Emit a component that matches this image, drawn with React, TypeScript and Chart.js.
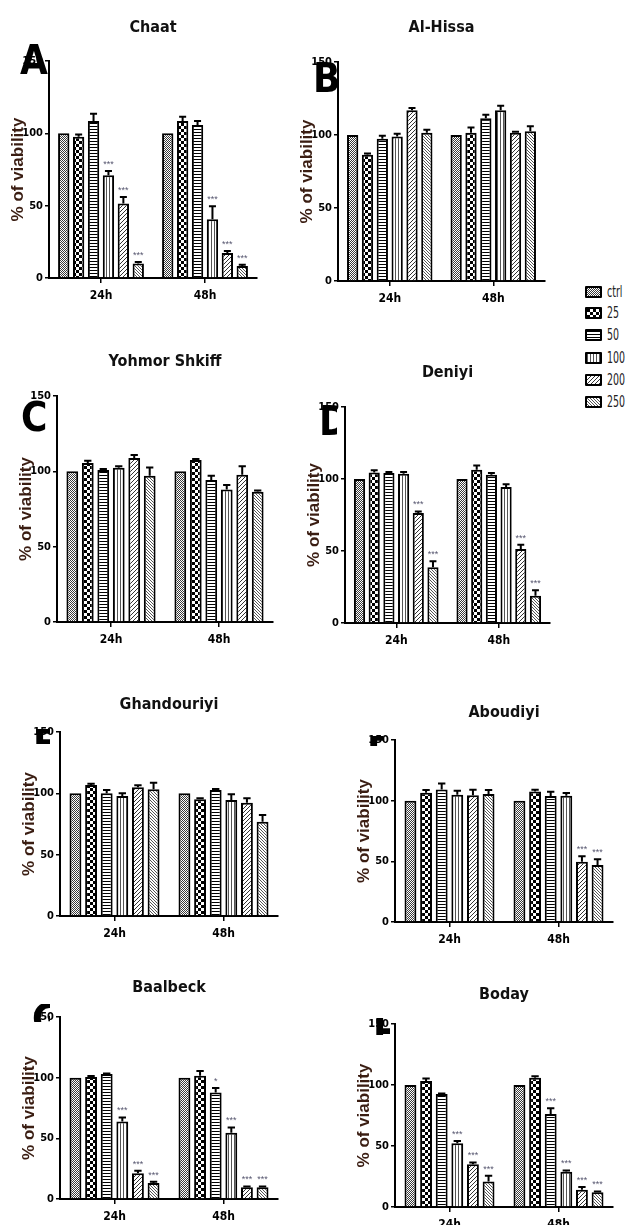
import React, { useEffect, useRef } from "react";
import { Chart, registerables } from "chart.js";

Chart.register(...registerables);

// ---------- data ----------
const timeLabels = ["24h", "48h"];
const doseLabels = ["ctrl", "25", "50", "100", "200", "250"];
const yTickValues = [0, 50, 100, 150];
const yAxisTitle = "% of viability";

const chaat24 = [100, 97.7, 108.5, 71, 51.5, 10];
const chaat48 = [100, 108.5, 105.8, 40.6, 17.3, 8.3];
const chaatErr24 = [0, 1.5, 5, 3, 4.5, 1];
const chaatErr48 = [0, 3, 2.7, 9, 1.4, 0.8];
const chaatStars24 = ["", "", "", "***", "***", "***"];
const chaatStars48 = ["", "", "", "***", "***", "***"];

const hissa24 = [100, 86.5, 97.5, 98.9, 117, 101.6];
const hissa48 = [100, 101.6, 111.5, 117, 101.6, 102.5];
const hissaErr24 = [0, 0.8, 2, 2, 1.5, 2];
const hissaErr48 = [0, 3.5, 2.3, 3, 0.7, 3.5];
const hissaStars24 = ["", "", "", "", "", ""];
const hissaStars48 = ["", "", "", "", "", ""];

const yohmor24 = [100, 105.5, 100.9, 102.4, 108.8, 97.1];
const yohmor48 = [100, 107.5, 94.3, 87.9, 97.8, 86.5];
const yohmorErr24 = [0, 1.5, 0.7, 1, 2, 5.5];
const yohmorErr48 = [0, 0.7, 2.8, 3, 5.5, 0.7];
const yohmorStars24 = ["", "", "", "", "", ""];
const yohmorStars48 = ["", "", "", "", "", ""];

const deniyi24 = [100, 104.6, 104.2, 103.7, 76.4, 38.7];
const deniyi48 = [100, 106.5, 103, 94.4, 51.4, 19];
const deniyiErr24 = [0, 1.4, 0.7, 1.1, 1.1, 4.2];
const deniyiErr48 = [0, 2.8, 1.2, 2, 3, 3.7];
const deniyiStars24 = ["", "", "", "", "***", "***"];
const deniyiStars48 = ["", "", "", "", "***", "***"];

const ghand24 = [100, 106.8, 100, 97.8, 104.9, 103.3];
const ghand48 = [100, 95.1, 102.7, 94.6, 92.4, 76.9];
const ghandErr24 = [0, 1, 2.7, 2.2, 1.6, 5.4];
const ghandErr48 = [0, 0.8, 0.8, 4.6, 3.5, 5.4];
const ghandStars24 = ["", "", "", "", "", ""];
const ghandStars48 = ["", "", "", "", "", ""];

const aboud24 = [100, 106.5, 109.3, 104.9, 104.4, 105.4];
const aboud48 = [100, 107.6, 103.8, 104.1, 49.6, 46.9];
const aboudErr24 = [0, 2.2, 4.9, 3.3, 4.6, 3.3];
const aboudErr48 = [0, 1.4, 3.5, 2.2, 4.6, 4.9];
const aboudStars24 = ["", "", "", "", "", ""];
const aboudStars48 = ["", "", "", "", "***", "***"];

const baal24 = [100, 100.5, 103, 63.9, 21.3, 13.1];
const baal48 = [100, 101.6, 87.7, 54.6, 9.6, 9.6];
const baalErr24 = [0, 0.8, 0.5, 3.3, 1.9, 1.1];
const baalErr48 = [0, 3.8, 3.8, 4.4, 0.8, 0.8];
const baalStars24 = ["", "", "", "***", "***", "***"];
const baalStars48 = ["", "", "*", "***", "***", "***"];

const boday24 = [100, 103.3, 92.6, 52.3, 35.1, 21];
const boday48 = [100, 106, 76.3, 28.9, 14.2, 12];
const bodayErr24 = [0, 2.1, 0.5, 1.9, 1.4, 4.6];
const bodayErr48 = [0, 1.1, 4.6, 1.1, 2.2, 0.8];
const bodayStars24 = ["", "", "", "***", "***", "***"];
const bodayStars48 = ["", "", "***", "***", "***", "***"];

const panelData = [
  { title: "Chaat", letter: "A", m24: chaat24, m48: chaat48, e24: chaatErr24, e48: chaatErr48, s24: chaatStars24, s48: chaatStars48 },
  { title: "Al-Hissa", letter: "B", m24: hissa24, m48: hissa48, e24: hissaErr24, e48: hissaErr48, s24: hissaStars24, s48: hissaStars48 },
  { title: "Yohmor Shkiff", letter: "C", m24: yohmor24, m48: yohmor48, e24: yohmorErr24, e48: yohmorErr48, s24: yohmorStars24, s48: yohmorStars48 },
  { title: "Deniyi", letter: "D", m24: deniyi24, m48: deniyi48, e24: deniyiErr24, e48: deniyiErr48, s24: deniyiStars24, s48: deniyiStars48 },
  { title: "Ghandouriyi", letter: "E", m24: ghand24, m48: ghand48, e24: ghandErr24, e48: ghandErr48, s24: ghandStars24, s48: ghandStars48 },
  { title: "Aboudiyi", letter: "F", m24: aboud24, m48: aboud48, e24: aboudErr24, e48: aboudErr48, s24: aboudStars24, s48: aboudStars48 },
  { title: "Baalbeck", letter: "G", m24: baal24, m48: baal48, e24: baalErr24, e48: baalErr48, s24: baalStars24, s48: baalStars48 },
  { title: "Boday", letter: "H", m24: boday24, m48: boday48, e24: bodayErr24, e48: bodayErr48, s24: bodayStars24, s48: bodayStars48 },
];

// ---------- layout (page pixel positions) ----------
const panelLayout = [
  { x0: 49, x1: 257, yTop: 61, yBot: 278, titleY: 28, lx: 21, ly: 45, clip: [18, 40, 34, 40] },
  { x0: 338, x1: 545, yTop: 62, yBot: 281, titleY: 28, lx: 314, ly: 63, clip: [310, 58, 30, 40] },
  { x0: 57, x1: 273, yTop: 396, yBot: 622, titleY: 362, lx: 22, ly: 402, clip: [18, 396, 34, 40] },
  { x0: 345, x1: 550, yTop: 407, yBot: 623, titleY: 373, lx: 320, ly: 406, clip: [316, 402, 21, 38] },
  { x0: 60, x1: 278, yTop: 732, yBot: 916, titleY: 705, lx: 34, ly: 729, clip: [34, 729, 16, 15] },
  { x0: 395, x1: 613, yTop: 740, yBot: 922, titleY: 713, lx: 368, ly: 736, clip: [368, 736, 15, 10] },
  { x0: 60, x1: 278, yTop: 1017, yBot: 1199, titleY: 988, lx: 33, ly: 1004, clip: [33, 1004, 17, 18] },
  { x0: 395, x1: 613, yTop: 1024, yBot: 1207, titleY: 995, lx: 374, ly: 1018, clip: [374, 1018, 16, 17] },
];

const legendLayout = { x: 585, y: [292, 313, 335, 358, 380, 402] };

const NARROW = "'Liberation Sans Narrow', 'Arial Narrow', 'DejaVu Sans Condensed', sans-serif";
const SANS = "'Liberation Sans', Arial, sans-serif";
const Y_SPACE = 39;
const X_SPACE = 26;
const RIGHT_PAD = 6;

function makeTile(kind: number): HTMLCanvasElement {
  const c = document.createElement("canvas");
  const sizes = [2, 6, 3, 3, 4, 3];
  const s = sizes[kind];
  c.width = s;
  c.height = s;
  const g = c.getContext("2d")!;
  g.fillStyle = "#fff";
  g.fillRect(0, 0, s, s);
  if (kind === 0) {
    g.fillStyle = "#3a3a3a";
    g.fillRect(0, 0, 1, 1);
    g.fillRect(1, 1, 1, 1);
  } else if (kind === 1) {
    g.fillStyle = "#000";
    g.fillRect(0, 0, 3, 3);
    g.fillRect(3, 3, 3, 3);
  } else if (kind === 2) {
    g.fillStyle = "#000";
    g.fillRect(0, 0, 3, 1);
  } else if (kind === 3) {
    g.fillStyle = "#555";
    g.fillRect(0, 0, 1, 3);
  } else if (kind === 4) {
    g.fillStyle = "#333";
    g.fillRect(3, 0, 1, 1);
    g.fillRect(2, 1, 1, 1);
    g.fillRect(1, 2, 1, 1);
    g.fillRect(0, 3, 1, 1);
  } else {
    g.fillStyle = "#555";
    g.fillRect(0, 0, 1, 1);
    g.fillRect(1, 1, 1, 1);
    g.fillRect(2, 2, 1, 1);
  }
  return c;
}

function Panel({ idx }: { idx: number }) {
  const ref = useRef<HTMLCanvasElement | null>(null);
  const d = panelData[idx];
  const L = panelLayout[idx];
  const left = L.x0 - Y_SPACE;
  const top = Math.round(L.titleY - 10);
  const width = L.x1 - L.x0 + Y_SPACE + RIGHT_PAD;
  const height = L.yBot - top + X_SPACE;

  useEffect(() => {
    const canvas = ref.current!;
    const ctx = canvas.getContext("2d")!;
    const patterns = doseLabels.map((_, i) => ctx.createPattern(makeTile(i), "repeat")!);
    const titlePadBottom = L.yTop - top - 16 * 1.2;

    const overlay = {
      id: "overlay" + idx,
      afterDatasetsDraw(chart: any) {
        const c = chart.ctx;
        const ys = chart.scales.y;
        chart.data.datasets.forEach((ds: any, di: number) => {
          const meta = chart.getDatasetMeta(di);
          meta.data.forEach((el: any, j: number) => {
            const v = ds.data[j];
            const e = ds.errors[j];
            const tp = ys.getPixelForValue(v + e);
            c.save();
            c.strokeStyle = "#000";
            c.lineWidth = 2;
            if (e > 0) {
              const cw = el.width * 0.62;
              c.beginPath();
              c.moveTo(el.x, el.y);
              c.lineTo(el.x, tp);
              c.moveTo(el.x - cw / 2, tp);
              c.lineTo(el.x + cw / 2, tp);
              c.stroke();
            }
            const st = ds.stars[j];
            if (st) {
              c.fillStyle = "#55556e";
              c.font = "9px " + SANS;
              c.textAlign = "center";
              c.textBaseline = "bottom";
              c.fillText(st, el.x, Math.min(tp, el.y) - 2);
            }
            c.restore();
          });
        });
      },
      afterDraw(chart: any) {
        const c = chart.ctx;
        const [cx, cy, cw, ch] = L.clip;
        c.save();
        c.beginPath();
        c.rect(cx - left, cy - top, cw, ch);
        c.clip();
        c.fillStyle = "#000";
        c.font = "bold 40px " + NARROW;
        c.textAlign = "left";
        c.textBaseline = "alphabetic";
        c.fillText(d.letter, L.lx - left - 1, L.ly - top + 29);
        c.restore();
      },
    };

    const chart = new Chart(canvas, {
      type: "bar",
      data: {
        labels: timeLabels,
        datasets: doseLabels.map((lab, i) => ({
          label: lab,
          data: [d.m24[i], d.m48[i]],
          errors: [d.e24[i], d.e48[i]],
          stars: [d.s24[i], d.s48[i]],
          backgroundColor: patterns[i],
          borderColor: "#000",
          borderWidth: 2,
          categoryPercentage: 0.86,
          barPercentage: 0.76,
        })) as any,
      },
      options: {
        responsive: false,
        animation: false,
        layout: { padding: { left: 0, right: RIGHT_PAD, top: 0, bottom: 0 } },
        plugins: {
          legend: { display: false },
          tooltip: { enabled: false },
          title: {
            display: true,
            text: d.title,
            fullSize: false,
            color: "#111",
            font: { family: NARROW, size: 16, weight: "bold", lineHeight: 1.2 },
            padding: { top: 0, bottom: titlePadBottom },
          },
        },
        scales: {
          x: {
            grid: { display: true, drawOnChartArea: false, offset: false, tickLength: 5, color: "#000", lineWidth: 1.5 },
            border: { display: true, color: "#000", width: 2 },
            ticks: { color: "#000", padding: 6, font: { family: NARROW, size: 12, weight: "bold" } },
            afterFit: (s: any) => {
              s.height = X_SPACE;
            },
          },
          y: {
            min: 0,
            max: 150,
            afterBuildTicks: (s: any) => {
              s.ticks = yTickValues.map((v) => ({ value: v }));
            },
            grid: { display: true, drawOnChartArea: false, tickLength: 4, color: "#000", lineWidth: 1.5 },
            border: { display: true, color: "#000", width: 2 },
            ticks: { color: "#000", padding: 2, font: { family: NARROW, size: 11, weight: "bold" } },
            title: {
              display: true,
              text: yAxisTitle,
              color: "#3a1d12",
              font: { family: SANS, size: 17, weight: "bold", lineHeight: 1 },
              padding: { top: 0, bottom: 0 },
            },
            afterFit: (s: any) => {
              s.width = Y_SPACE;
            },
          },
        },
      } as any,
      plugins: [overlay],
    });
    return () => chart.destroy();
  }, []);

  return (
    <canvas
      ref={ref}
      width={width}
      height={height}
      style={{ position: "absolute", left, top, width, height }}
    />
  );
}

function Legend() {
  const urls = doseLabels.map((_, i) => makeTile(i).toDataURL());
  return (
    <>
      {doseLabels.map((lab, i) => (
        <div
          key={lab}
          style={{
            position: "absolute",
            left: legendLayout.x,
            top: legendLayout.y[i] - 8,
            height: 16,
            display: "flex",
            alignItems: "center",
            whiteSpace: "nowrap",
          }}
        >
          <div
            style={{
              width: 13,
              height: 8,
              border: "2px solid #000",
              borderRadius: 1,
              backgroundImage: `url(${urls[i]})`,
              backgroundRepeat: "repeat",
              flex: "none",
            }}
          />
          <span
            style={{
              marginLeft: 5,
              fontFamily: NARROW,
              fontSize: 15,
              color: "#222",
              lineHeight: "16px",
              display: "inline-block",
              transform: "scaleX(0.7)",
              transformOrigin: "left center",
            }}
          >
            {lab}
          </span>
        </div>
      ))}
    </>
  );
}

export default function App() {
  return (
    <div
      style={{
        position: "absolute",
        left: 0,
        top: 0,
        width: 627,
        height: 1225,
        overflow: "hidden",
        background: "#fff",
      }}
    >
      {panelData.map((_, i) => (
        <Panel key={i} idx={i} />
      ))}
      <Legend />
    </div>
  );
}
